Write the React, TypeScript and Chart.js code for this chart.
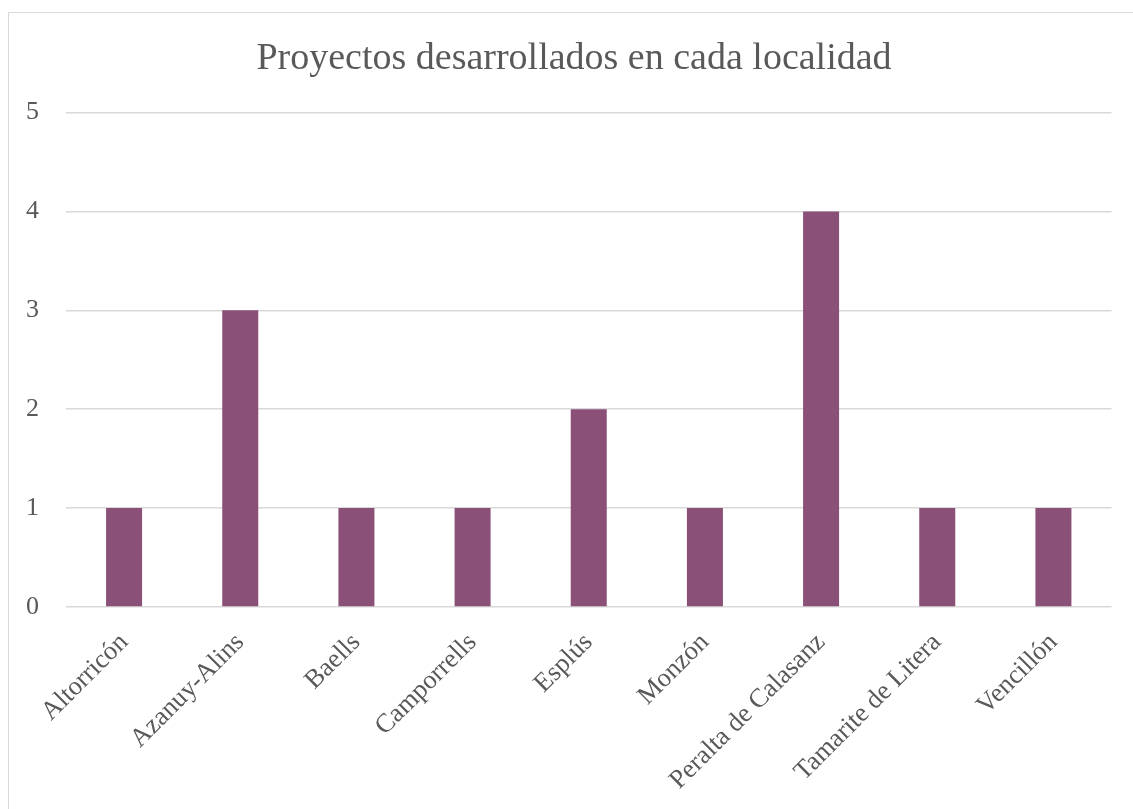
import React, { useEffect, useRef } from "react";
import { Chart, registerables } from "chart.js";

Chart.register(...registerables);

const categories = [
  "Altorricón",
  "Azanuy-Alins",
  "Baells",
  "Camporrells",
  "Esplús",
  "Monzón",
  "Peralta de Calasanz",
  "Tamarite de Litera",
  "Vencillón",
];
const projects = [1, 3, 1, 1, 2, 1, 4, 1, 1];
const yTicks = [0, 1, 2, 3, 4, 5];
const titleText = "Proyectos desarrollados en cada localidad";

const FONT = "'Liberation Serif', 'DejaVu Serif', serif";

const centeredTitle = {
  id: "centeredTitle",
  afterDraw(chart: any) {
    const ctx = chart.ctx;
    ctx.save();
    ctx.font = `normal 38px ${FONT}`;
    ctx.fillStyle = "#595959";
    ctx.textAlign = "center";
    ctx.textBaseline = "middle";
    ctx.fillText(titleText, chart.width / 2 - 1, 45.8);
    ctx.restore();
  },
};

export default function App() {
  const ref = useRef<HTMLCanvasElement | null>(null);

  useEffect(() => {
    document.body.style.overflow = "hidden";
    const ctx = ref.current!;
    const chart = new Chart(ctx, {
      type: "bar",
      data: {
        labels: categories,
        datasets: [
          {
            label: "Proyectos",
            data: projects,
            backgroundColor: "#8a5078",
            borderWidth: 0,
            barPercentage: 0.62,
            categoryPercentage: 0.5,
          },
        ],
      },
      plugins: [centeredTitle],
      options: {
        animation: false,
        responsive: true,
        maintainAspectRatio: false,
        layout: { padding: { left: 0, right: 29.5, top: 99.6, bottom: 0 } },
        plugins: {
          legend: { display: false },
          tooltip: { enabled: false },
          title: { display: false },
        },
        scales: {
          x: {
            grid: { display: false, drawTicks: false },
            border: { display: false },
            ticks: {
              color: "#595959",
              font: { family: FONT, size: 26.5 },
              maxRotation: 45,
              minRotation: 45,
              autoSkip: false,
              padding: 20,
            },
            afterFit: (s: any) => {
              s.height = 203;
            },
          },
          y: {
            min: 0,
            max: 5,
            afterBuildTicks: (s: any) => {
              s.ticks = yTicks.map((v) => ({ value: v }));
            },
            grid: { color: "#d9d9d9", lineWidth: 1.5, drawTicks: false },
            border: { display: false },
            ticks: {
              color: "#595959",
              font: { family: FONT, size: 26 },
              padding: 27,
            },
            afterFit: (s: any) => {
              s.width = 57;
            },
          },
        },
      },
    });
    return () => chart.destroy();
  }, []);

  return (
    <div
      style={{
        position: "fixed",
        left: 8,
        top: 12,
        width: 1134,
        height: 810,
        border: "1.5px solid #d9d9d9",
        boxSizing: "border-box",
        background: "#fff",
      }}
    >
      <div style={{ position: "absolute", left: 0, top: 0, width: 1132, height: 797 }}>
        <canvas ref={ref} />
      </div>
    </div>
  );
}
